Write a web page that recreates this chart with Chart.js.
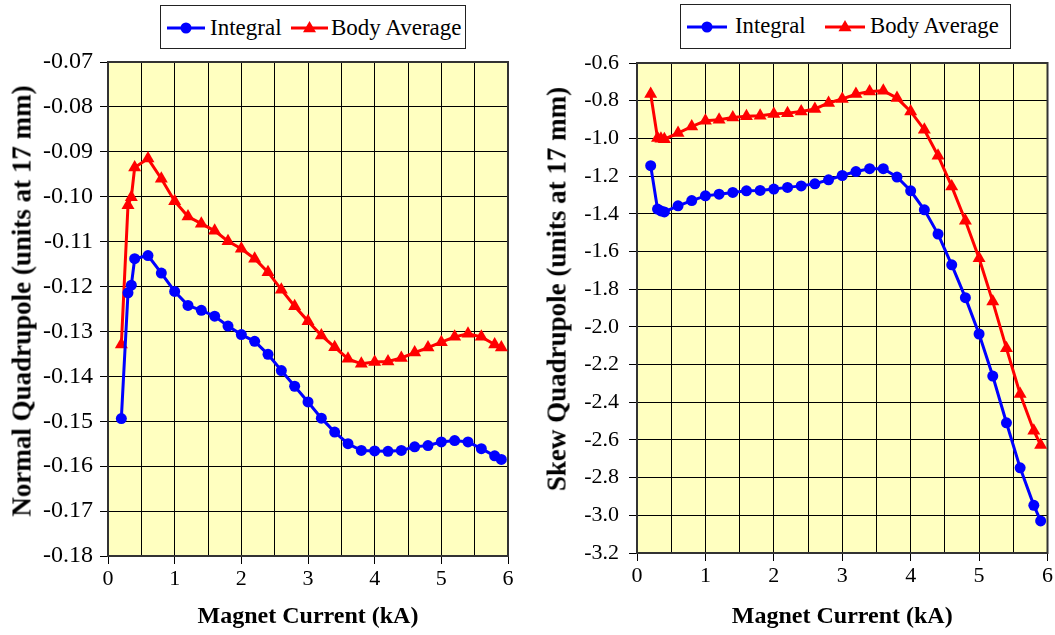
<!DOCTYPE html>
<html><head><meta charset="utf-8">
<script src="https://cdn.jsdelivr.net/npm/chart.js@4/dist/chart.umd.min.js"></script>
<style>
html,body{margin:0;padding:0;background:#fff;width:1055px;height:635px;overflow:hidden;position:relative;font-family:'Liberation Serif','Times New Roman',serif;}
canvas{position:absolute;top:0;}
#c1{left:0;} #c2{left:527px;}
.lg{position:absolute;border:1px solid #222;background:#fff;box-sizing:border-box;}
.lt{position:absolute;font-size:23px;color:#000;white-space:nowrap;line-height:1;}
.ls{position:absolute;overflow:visible;}
.yt{position:absolute;font-size:27px;font-weight:bold;color:#000;white-space:nowrap;line-height:1;transform:translate(-50%,-50%) rotate(-90deg);}
</style></head><body>
<canvas id="c1" width="527" height="635"></canvas>
<canvas id="c2" width="528" height="635"></canvas>

<div class="lg" style="left:160px;top:5px;width:306px;height:44px"></div>
<svg class="ls" style="left:167px;top:20px" width="40" height="16"><line x1="0" y1="8" x2="38" y2="8" stroke="#0000FF" stroke-width="3"/><circle cx="19" cy="8" r="5.5" fill="#0000FF"/></svg>
<div class="lt" id="lt1" style="left:210px;top:16px"></div>
<svg class="ls" style="left:291px;top:20px" width="40" height="16"><line x1="0" y1="8" x2="37" y2="8" stroke="#FF0000" stroke-width="3"/><polygon points="18.5,1 25,12.2 12,12.2" fill="#FF0000"/></svg>
<div class="lt" id="lt2" style="left:331px;top:16px"></div>

<div class="lg" style="left:680px;top:4px;width:331px;height:45px"></div>
<svg class="ls" style="left:687px;top:19px" width="42" height="16"><line x1="0" y1="8" x2="40" y2="8" stroke="#0000FF" stroke-width="3"/><circle cx="20" cy="8" r="5.5" fill="#0000FF"/></svg>
<div class="lt" id="lt3" style="left:735px;top:15px;font-size:22.7px"></div>
<svg class="ls" style="left:825px;top:19px" width="42" height="16"><line x1="0" y1="8" x2="40" y2="8" stroke="#FF0000" stroke-width="3"/><polygon points="20,1 26.5,12.2 13.5,12.2" fill="#FF0000"/></svg>
<div class="lt" id="lt4" style="left:870px;top:15px;font-size:22.7px"></div>

<div class="yt" id="yt1" style="left:22px;top:301px"></div>
<div class="yt" id="yt2" style="left:557px;top:289px"></div>

<script>
// ---- data ----
const current = [0.2,0.3,0.35,0.4,0.6,0.8,1.0,1.2,1.4,1.6,1.8,2.0,2.2,2.4,2.6,2.8,3.0,3.2,3.4,3.6,3.8,4.0,4.2,4.4,4.6,4.8,5.0,5.2,5.4,5.6,5.8,5.9];
const normalIntegral = [-0.1494,-0.1214,-0.1197,-0.1138,-0.1131,-0.1170,-0.1211,-0.1242,-0.1253,-0.1266,-0.1288,-0.1307,-0.1322,-0.1351,-0.1387,-0.1422,-0.1457,-0.1493,-0.1524,-0.1550,-0.1565,-0.1566,-0.1567,-0.1565,-0.1557,-0.1554,-0.1546,-0.1543,-0.1546,-0.1561,-0.1577,-0.1585];
const normalBody = [-0.1329,-0.1019,-0.1001,-0.0935,-0.0915,-0.0960,-0.1010,-0.1044,-0.1060,-0.1076,-0.1099,-0.1116,-0.1138,-0.1168,-0.1207,-0.1244,-0.1277,-0.1309,-0.1335,-0.1361,-0.1372,-0.1368,-0.1367,-0.1359,-0.1347,-0.1336,-0.1324,-0.1312,-0.1305,-0.1312,-0.1329,-0.1336];
const skewIntegral = [-1.145,-1.375,-1.385,-1.390,-1.358,-1.330,-1.305,-1.296,-1.287,-1.278,-1.276,-1.269,-1.260,-1.252,-1.241,-1.220,-1.197,-1.176,-1.161,-1.161,-1.205,-1.278,-1.379,-1.508,-1.671,-1.845,-2.038,-2.261,-2.509,-2.748,-2.947,-3.030];
const skewBody = [-0.765,-0.998,-1.002,-1.004,-0.972,-0.937,-0.906,-0.901,-0.889,-0.883,-0.880,-0.871,-0.866,-0.857,-0.844,-0.812,-0.791,-0.765,-0.751,-0.747,-0.786,-0.857,-0.954,-1.092,-1.255,-1.437,-1.636,-1.866,-2.114,-2.356,-2.551,-2.627];
const seriesNames = ['Integral','Body Average'];
const xAxisTitle = 'Magnet Current (kA)';
const normalTitle = 'Normal Quadrupole (units at 17 mm)';
const skewTitle = 'Skew Quadrupole (units at 17 mm)';
const normalRange = {min:-0.18, max:-0.07, step:0.01, digits:2};
const skewRange = {min:-3.2, max:-0.6, step:0.2, digits:1};
const xRange = {min:0, max:6, step:0.5};

document.getElementById('lt1').textContent = seriesNames[0];
document.getElementById('lt2').textContent = seriesNames[1];
document.getElementById('lt3').textContent = seriesNames[0];
document.getElementById('lt4').textContent = seriesNames[1];
document.getElementById('yt1').textContent = normalTitle;
document.getElementById('yt2').textContent = skewTitle;

const FONT = "'Liberation Serif','Times New Roman',serif";
const pts = (ys) => current.map((x,i)=>({x:x,y:ys[i]}));

const bgPlugin = {
  id:'bg',
  beforeDraw(chart){
    const a = chart.chartArea, c = chart.ctx;
    c.save(); c.fillStyle = '#FFFFC0'; c.fillRect(a.left,a.top,a.right-a.left,a.bottom-a.top); c.restore();
  },
  beforeDatasetsDraw(chart){
    const a = chart.chartArea, c = chart.ctx;
    c.save(); c.strokeStyle = '#333'; c.lineWidth = 2; c.strokeRect(a.left,a.top,a.right-a.left,a.bottom-a.top); c.restore();
  }
};

function makeChart(id, intData, bodyData, yr, lay){
  return new Chart(document.getElementById(id), {
    type:'line',
    data:{datasets:[
      {label:seriesNames[0], data:pts(intData), borderColor:'#0000FF', backgroundColor:'#0000FF', borderWidth:3, pointStyle:'circle', pointRadius:5.5, pointBorderWidth:0, tension:0},
      {label:seriesNames[1], data:pts(bodyData), borderColor:'#FF0000', backgroundColor:'#FF0000', borderWidth:3, pointStyle:'triangle', pointRadius:7.5, pointBorderWidth:0, tension:0}
    ]},
    options:{
      responsive:false, animation:false, devicePixelRatio:1,
      layout:{padding:{left:lay.padL, right:lay.padR, top:lay.padT, bottom:lay.padB}},
      plugins:{legend:{display:false}, tooltip:{enabled:false}},
      scales:{
        x:{type:'linear', min:xRange.min, max:xRange.max,
          afterFit(s){ s.height = lay.xH; },
          ticks:{stepSize:xRange.step, maxTicksLimit:20, autoSkip:false, maxRotation:0, padding:2, color:'#000',
            font:{family:FONT, size:22},
            callback:(v)=> Math.abs(v-Math.round(v))<1e-9 ? String(Math.round(v)) : ''},
          grid:{color:'#000', lineWidth:1, tickLength:8,
            tickColor:(ctx)=> (ctx.tick && Math.abs(ctx.tick.value-Math.round(ctx.tick.value))<1e-9) ? '#000' : 'rgba(0,0,0,0)'},
          border:{color:'#333', width:2},
          title:{display:true, text:xAxisTitle, color:'#000', padding:0, font:{family:FONT, size:24, weight:'bold'}}
        },
        y:{type:'linear', min:yr.min, max:yr.max,
          afterFit(s){ s.width = lay.yW; },
          ticks:{stepSize:yr.step, maxTicksLimit:20, autoSkip:false, padding:lay.tickPad, color:'#000',
            font:{family:FONT, size:lay.yFont},
            callback:(v)=> (Math.round(v/yr.step)*yr.step).toFixed(yr.digits)},
          grid:{color:'#000', lineWidth:1, tickLength:8, tickColor:'#000'},
          border:{color:'#333', width:2},
          title:{display:false}
        }
      }
    },
    plugins:[bgPlugin]
  });
}

makeChart('c1', normalIntegral, normalBody, normalRange, {padL:8, padR:19, padT:62, padB:4, yW:100, xH:75, tickPad:7, yFont:24});
makeChart('c2', skewIntegral, skewBody, skewRange, {padL:14, padR:7, padT:63, padB:4, yW:96, xH:78, tickPad:10, yFont:22});
</script>
</body></html>
